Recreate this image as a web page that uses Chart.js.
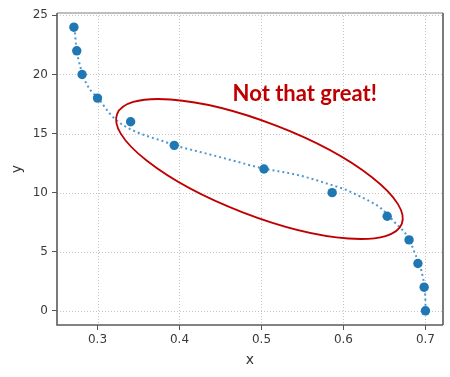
<!DOCTYPE html>
<html><head><meta charset="utf-8">
<script src="https://cdn.jsdelivr.net/npm/chart.js@4"></script>
<style>html,body{margin:0;padding:0;background:#fff}#wrap{width:450px;height:377px}</style>
</head><body><div id="wrap"><canvas id="c" width="450" height="377"></canvas></div>
<script>
// Observed data points
const xValues = [0.2712, 0.2747, 0.2812, 0.3000, 0.3404, 0.3936, 0.5030, 0.5862, 0.6533, 0.6800, 0.6908, 0.6984, 0.7000];
const yValues = [24, 22, 20, 18, 16, 14, 12, 10, 8, 6, 4, 2, 0];
// Fitted curve (dotted)
const fitX = [0.2718, 0.2747, 0.2777, 0.2816, 0.2865, 0.2927, 0.3007, 0.3069, 0.3151, 0.3233, 0.3313, 0.3477, 0.3640, 0.3803, 0.3938, 0.4252, 0.4558, 0.5027, 0.5373, 0.5599, 0.5803, 0.6006, 0.6170, 0.6333, 0.6455, 0.6618, 0.6802, 0.6863, 0.6966, 0.6998, 0.7002];
const fitY = [23.97, 22.0, 21.01, 20.06, 19.22, 18.55, 18.03, 17.42, 16.68, 16.12, 15.70, 15.13, 14.71, 14.35, 14.01, 13.44, 12.89, 12.04, 11.60, 11.20, 10.76, 10.30, 9.79, 9.22, 8.69, 7.54, 6.05, 5.00, 2.89, 1.07, 0.08];
// Tick labels
const xTicks = [0.3, 0.4, 0.5, 0.6, 0.7];
const yTicks = [0, 5, 10, 15, 20, 25];
const noteText = 'Not that great!';

const pts = xValues.map((x, i) => ({x, y: yValues[i]}));
const fit = fitX.map((x, i) => ({x, y: fitY[i]}));

const annot = {
  ellipse: {cx: 0.4975, cy: 12.0, rx: 152.6, ry: 46.5, angleDeg: 21.1, color: '#c00000', width: 1.8},
  text: {x: 0.4648, y: 17.75, color: '#c00000', font: 'bold 22px Lato'}
};

const annotPlugin = {
  id: 'annot',
  beforeDatasetsDraw(chart) {
    // dotted grid
    const {ctx, chartArea: a, scales} = chart;
    ctx.save();
    ctx.strokeStyle = '#c4c4c4'; ctx.lineWidth = 1; ctx.setLineDash([1, 2]);
    xTicks.forEach(v => { const p = Math.round(scales.x.getPixelForValue(v)) + 0.5; ctx.beginPath(); ctx.moveTo(p, a.top); ctx.lineTo(p, a.bottom); ctx.stroke(); });
    yTicks.forEach(v => { const p = Math.round(scales.y.getPixelForValue(v)) + 0.5; ctx.beginPath(); ctx.moveTo(a.left, p); ctx.lineTo(a.right, p); ctx.stroke(); });
    ctx.restore();
  },
  afterDraw(chart) {
    const {ctx, chartArea: a, scales} = chart;
    // frame
    ctx.save();
    ctx.lineWidth = 1.6;
    ctx.strokeStyle = '#a8a8a8';
    ctx.beginPath(); ctx.moveTo(a.left, a.top); ctx.lineTo(a.right, a.top); ctx.stroke();
    ctx.strokeStyle = '#5a5a5a';
    ctx.beginPath(); ctx.moveTo(a.right, a.top); ctx.lineTo(a.right, a.bottom); ctx.stroke();
    ctx.beginPath(); ctx.moveTo(a.left, a.top); ctx.lineTo(a.left, a.bottom); ctx.lineTo(a.right, a.bottom); ctx.stroke();
    ctx.restore();
    // ellipse
    const e = annot.ellipse;
    ctx.save();
    ctx.strokeStyle = e.color; ctx.lineWidth = e.width;
    ctx.beginPath();
    ctx.ellipse(scales.x.getPixelForValue(e.cx), scales.y.getPixelForValue(e.cy), e.rx, e.ry, e.angleDeg * Math.PI / 180, 0, Math.PI * 2);
    ctx.stroke();
    ctx.restore();
    // text
    const t = annot.text;
    ctx.save();
    ctx.fillStyle = t.color; ctx.font = t.font;
    ctx.textAlign = 'left'; ctx.textBaseline = 'alphabetic';
    ctx.fillText(noteText, scales.x.getPixelForValue(t.x), scales.y.getPixelForValue(t.y));
    ctx.restore();
  }
};

new Chart(document.getElementById('c'), {
  type: 'scatter',
  data: {
    datasets: [
      {label: 'data', data: pts, backgroundColor: '#1f77b4', borderColor: '#1f77b4', pointRadius: 4.7, pointBorderWidth: 0, showLine: false},
      {label: 'fit', data: fit, showLine: true, borderColor: 'rgba(52,133,196,0.85)', borderWidth: 2, borderDash: [2, 3], pointRadius: 0, cubicInterpolationMode: 'monotone', fill: false}
    ]
  },
  options: {
    responsive: false,
    animation: false,
    events: [],
    layout: {padding: {left: 0, top: 13, right: 7, bottom: 0}},
    plugins: {legend: {display: false}, tooltip: {enabled: false}},
    scales: {
      x: {
        type: 'linear', min: 0.2506, max: 0.7214,
        afterBuildTicks: s => { s.ticks = xTicks.map(v => ({value: v})); },
        afterFit: s => { s.height = 52; },
        ticks: {callback: v => v.toFixed(1), color: '#3a3a3a', font: {family: 'DejaVu Sans', size: 12}, padding: 3, maxRotation: 0, autoSkip: false},
        grid: {drawOnChartArea: false, tickLength: 5, tickColor: '#555', tickWidth: 1},
        border: {display: false},
        title: {display: true, text: 'x', color: '#333', font: {family: 'DejaVu Sans', size: 14}, padding: {top: 0, bottom: 8}}
      },
      y: {
        type: 'linear', min: -1.2, max: 25.2,
        afterBuildTicks: s => { s.ticks = yTicks.map(v => ({value: v})); },
        afterFit: s => { s.width = 57; },
        ticks: {color: '#3a3a3a', font: {family: 'DejaVu Sans', size: 12}, padding: 4, autoSkip: false},
        grid: {drawOnChartArea: false, tickLength: 5, tickColor: '#555', tickWidth: 1},
        border: {display: false},
        title: {display: true, text: 'y', color: '#333', font: {family: 'DejaVu Sans', size: 14}, padding: {top: 9, bottom: 0}}
      }
    }
  },
  plugins: [annotPlugin]
});
</script></body></html>
